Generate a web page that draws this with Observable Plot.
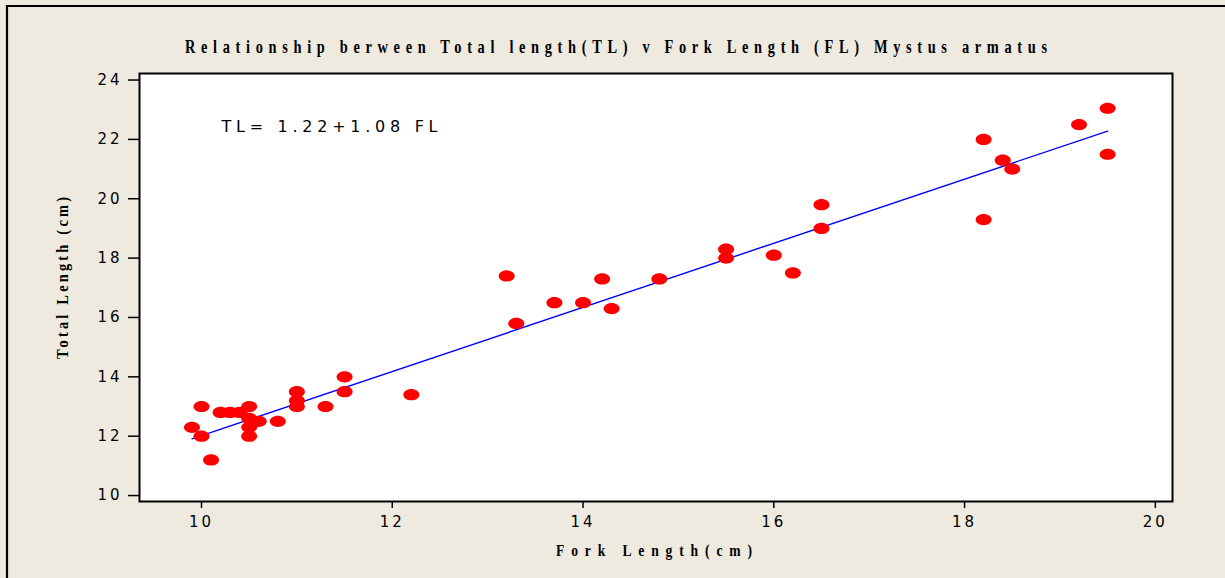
<!DOCTYPE html>
<html>
<head>
<meta charset="utf-8">
<script src="https://cdn.jsdelivr.net/npm/d3@7"></script>
<script src="https://cdn.jsdelivr.net/npm/@observablehq/plot@0.6"></script>
<style>
  html, body { margin: 0; padding: 0; background: #EEEAE0; }
  #chart { width: 1225px; height: 578px; overflow: hidden; }
  svg { display: block; }
</style>
</head>
<body>
<div id="chart"></div>
<script>
// Fork length (cm) and total length (cm) of Mystus armatus
const forkLength = [
  9.9, 10.0, 10.0, 10.1, 10.2, 10.3, 10.4, 10.5, 10.5, 10.5, 10.5, 10.6, 10.8,
  11.0, 11.0, 11.0, 11.3, 11.5, 11.5, 12.2,
  13.2, 13.3, 13.7, 14.0, 14.2, 14.3, 14.8,
  15.5, 15.5, 16.0, 16.2, 16.5, 16.5,
  18.2, 18.2, 18.4, 18.5, 19.2, 19.5, 19.5
];
const totalLength = [
  12.3, 13.0, 12.0, 11.2, 12.8, 12.8, 12.8, 13.0, 12.6, 12.3, 12.0, 12.5, 12.5,
  13.5, 13.2, 13.0, 13.0, 14.0, 13.5, 13.4,
  17.4, 15.8, 16.5, 16.5, 17.3, 16.3, 17.3,
  18.3, 18.0, 18.1, 17.5, 19.8, 19.0,
  22.0, 19.3, 21.3, 21.0, 22.5, 23.05, 21.5
];
// Fitted regression: TL = a + b * FL
const intercept = 1.22;
const slope = 1.08;
const xTicks = [10, 12, 14, 16, 18, 20];
const yTicks = [10, 12, 14, 16, 18, 20, 22, 24];
const titleText = "Relationship berween Total length(TL) v Fork Length (FL) Mystus armatus";
const xLabel = "Fork Length(cm)";
const yLabel = "Total Length (cm)";
const equationText = "TL= 1.22+1.08 FL";

const points = forkLength.map((fl, i) => ({fl, tl: totalLength[i]}));
const fitRange = d3.extent(forkLength);
const fitLine = fitRange.map(fl => ({fl, tl: intercept + slope * fl}));

const ellipse = {
  draw(ctx) {
    const rx = 8, ry = 5.6, k = 0.5523;
    ctx.moveTo(rx, 0);
    ctx.bezierCurveTo(rx, k * ry, k * rx, ry, 0, ry);
    ctx.bezierCurveTo(-k * rx, ry, -rx, k * ry, -rx, 0);
    ctx.bezierCurveTo(-rx, -k * ry, -k * rx, -ry, 0, -ry);
    ctx.bezierCurveTo(k * rx, -ry, rx, -k * ry, rx, 0);
    ctx.closePath();
  }
};

const tickFont = "'DejaVu Sans', Verdana, sans-serif";

const svg = Plot.plot({
  width: 1225,
  height: 578,
  marginLeft: 139,
  marginRight: 53,
  marginTop: 73,
  marginBottom: 77,
  style: {background: "transparent", fontFamily: tickFont, fontSize: "15px", color: "black"},
  x: {domain: [9.35, 20.18]},
  y: {domain: [9.8, 24.22]},
  marks: [
    Plot.frame({fill: "white"}),
    Plot.axisX({ticks: xTicks, tickSize: 7, tickPadding: 8, label: null, fontSize: 15, stroke: "black", strokeWidth: 1.5}),
    Plot.axisY({ticks: yTicks, tickSize: 11, tickPadding: 6, label: null, fontSize: 15, stroke: "black", strokeWidth: 1.5}),
    Plot.line(fitLine, {x: "fl", y: "tl", stroke: "#0000FF", strokeWidth: 1.4}),
    Plot.dot(points, {x: "fl", y: "tl", symbol: ellipse, fill: "#FF0000", stroke: "none"}),
    Plot.text([equationText], {frameAnchor: "top-left", dx: 82, dy: 53, textAnchor: "start", lineAnchor: "middle", fontSize: 16, fill: "black"}),
    Plot.frame({stroke: "black", strokeWidth: 2})
  ]
});

document.getElementById("chart").appendChild(svg);

const s = d3.select(svg);
s.selectAll("g[aria-label='x-axis tick label'] text, g[aria-label='y-axis tick label'] text")
  .style("letter-spacing", "3px");
s.selectAll("g[aria-label='text'] text")
  .attr("textLength", 216).attr("lengthAdjust", "spacing");

// outer border
s.append("path")
  .attr("d", "M7,578V6H1225")
  .attr("fill", "none").attr("stroke", "black").attr("stroke-width", 2.2);

const serif = "'Liberation Serif', 'Times New Roman', serif";
function condensedText(x, y, width, size, k, rotate, str) {
  const g = s.append("g")
    .attr("transform", `translate(${x},${y})${rotate ? " rotate(-90)" : ""} scale(${k},1)`);
  g.append("text")
    .attr("x", 0).attr("y", 0)
    .attr("text-anchor", "middle")
    .attr("font-family", serif).attr("font-weight", "bold").attr("font-size", size)
    .attr("textLength", width / k).attr("lengthAdjust", "spacing")
    .text(str);
}
condensedText(616, 53, 862, 18, 0.8, false, titleText);
condensedText(654, 556, 196, 17, 0.8, false, xLabel);
condensedText(68, 278, 162, 16, 0.9, true, yLabel);
</script>
</body>
</html>
